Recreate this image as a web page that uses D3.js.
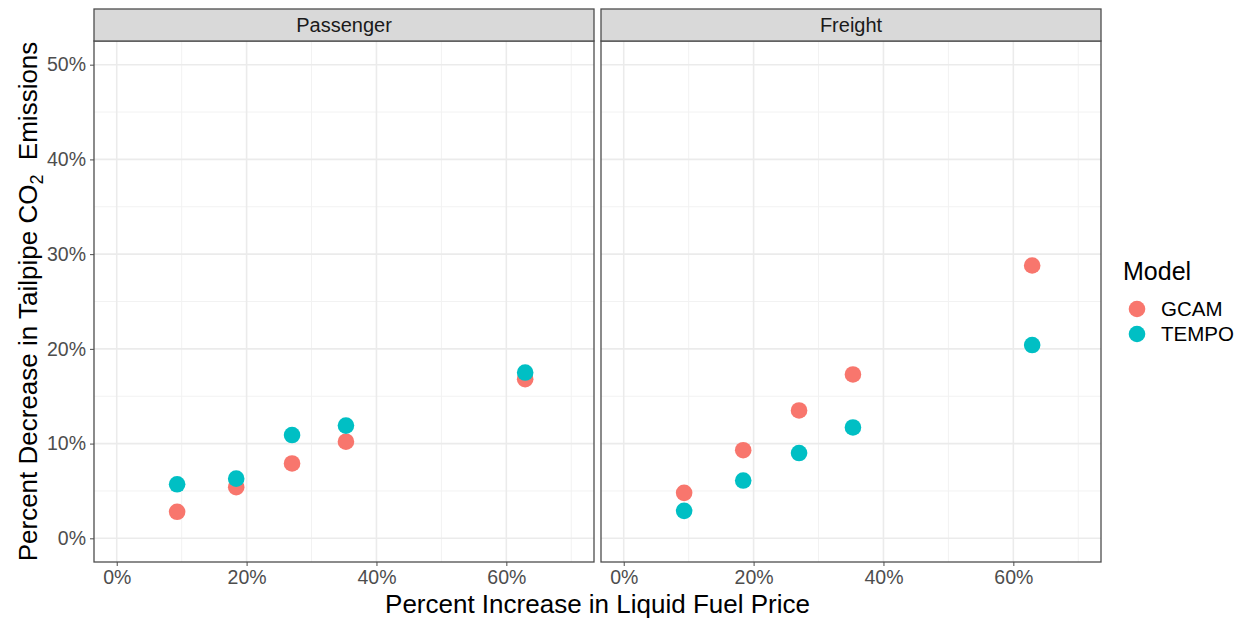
<!DOCTYPE html>
<html><head><meta charset="utf-8">
<script src="https://cdn.jsdelivr.net/npm/d3@7"></script>
<style>body{margin:0;background:#fff;} text{font-family:"Liberation Sans",Arial,sans-serif;}</style>
</head><body><svg id="c" width="1247" height="620"></svg>
<script>
const panels = ["Passenger", "Freight"];
const models = ["GCAM", "TEMPO"];
const colors = ["#F8766D", "#00BFC4"];
const priceIncrease = [9.3, 18.4, 27.0, 35.3, 62.9];
const passengerGCAM = [2.8, 5.4, 7.9, 10.2, 16.8];
const passengerTEMPO = [5.7, 6.3, 10.9, 11.9, 17.5];
const freightGCAM = [4.8, 9.3, 13.5, 17.3, 28.8];
const freightTEMPO = [2.9, 6.1, 9.0, 11.7, 20.4];
const xTicks = [0, 20, 40, 60];
const yTicks = [0, 10, 20, 30, 40, 50];

const data = {
  Passenger: {GCAM: passengerGCAM, TEMPO: passengerTEMPO},
  Freight: {GCAM: freightGCAM, TEMPO: freightTEMPO}
};

const svg = d3.select("#c");
const panelLeft = [94, 601], panelW = 500;
const pTop = 41, pBottom = 562, stripTop = 9;
const tickFont = 19.5, titleFont = 26;
const y = d3.scaleLinear().domain([-2.5, 52.5]).range([pBottom, pTop]);
const color = d3.scaleOrdinal().domain(models).range(colors);

panels.forEach((p, i) => {
  const x = d3.scaleLinear().domain([-3.5, 73.5]).range([panelLeft[i], panelLeft[i] + panelW]);
  const g = svg.append("g");
  [10, 30, 50, 70].forEach(v => g.append("line").attr("x1", x(v)).attr("x2", x(v)).attr("y1", pTop).attr("y2", pBottom).attr("stroke", "#F2F2F2").attr("stroke-width", 1));
  [5, 15, 25, 35, 45].forEach(v => g.append("line").attr("y1", y(v)).attr("y2", y(v)).attr("x1", x.range()[0]).attr("x2", x.range()[1]).attr("stroke", "#F2F2F2").attr("stroke-width", 1));
  xTicks.forEach(v => g.append("line").attr("x1", x(v)).attr("x2", x(v)).attr("y1", pTop).attr("y2", pBottom).attr("stroke", "#EBEBEB").attr("stroke-width", 1.6));
  yTicks.forEach(v => g.append("line").attr("y1", y(v)).attr("y2", y(v)).attr("x1", x.range()[0]).attr("x2", x.range()[1]).attr("stroke", "#EBEBEB").attr("stroke-width", 1.6));
  models.forEach(m => {
    g.selectAll(null).data(priceIncrease.map((xv, k) => ({x: xv, y: data[p][m][k]}))).enter()
      .append("circle").attr("cx", d => x(d.x)).attr("cy", d => y(d.y)).attr("r", 8.3).attr("fill", color(m));
  });
  g.append("rect").attr("x", panelLeft[i]).attr("y", pTop).attr("width", panelW).attr("height", pBottom - pTop)
    .attr("fill", "none").attr("stroke", "#4D4D4D").attr("stroke-width", 1.3);
  g.append("rect").attr("x", panelLeft[i]).attr("y", stripTop).attr("width", panelW).attr("height", pTop - stripTop)
    .attr("fill", "#D9D9D9").attr("stroke", "#4D4D4D").attr("stroke-width", 1.3);
  g.append("text").attr("x", panelLeft[i] + panelW / 2).attr("y", stripTop + 23).attr("text-anchor", "middle")
    .attr("font-size", 20).attr("fill", "#1A1A1A").text(p);
  const xa = svg.append("g").attr("transform", `translate(0,${pBottom})`)
    .call(d3.axisBottom(x).tickValues(xTicks).tickFormat(d => d + "%").tickSize(4).tickPadding(4));
  xa.select(".domain").remove();
  xa.selectAll("line").attr("stroke", "#4D4D4D");
  xa.selectAll("text").attr("font-size", tickFont).attr("fill", "#4D4D4D").attr("font-family", "Liberation Sans, Arial, sans-serif");
});

const ya = svg.append("g").attr("transform", `translate(${panelLeft[0]},0)`)
  .call(d3.axisLeft(y).tickValues(yTicks).tickFormat(d => d + "%").tickSize(4).tickPadding(4));
ya.select(".domain").remove();
ya.selectAll("line").attr("stroke", "#4D4D4D");
ya.selectAll("text").attr("font-size", tickFont).attr("fill", "#4D4D4D").attr("font-family", "Liberation Sans, Arial, sans-serif");

svg.append("text").attr("x", (panelLeft[0] + panelLeft[1] + panelW) / 2).attr("y", 613).attr("text-anchor", "middle")
  .attr("font-size", titleFont).attr("fill", "#000").text("Percent Increase in Liquid Fuel Price");
const yt = svg.append("text").attr("transform", `translate(37,${(pTop + pBottom) / 2}) rotate(-90)`).attr("text-anchor", "middle")
  .attr("font-size", titleFont).attr("fill", "#000");
yt.append("tspan").text("Percent Decrease in Tailpipe CO");
yt.append("tspan").attr("font-size", 18).attr("dy", 6).text("2");
yt.append("tspan").attr("dy", -6).text("\u00a0 Emissions");

const lg = svg.append("g");
lg.append("text").attr("x", 1123).attr("y", 280).attr("font-size", 25).attr("fill", "#000").text("Model");
models.forEach((m, k) => {
  const cy = 309 + k * 25;
  lg.append("circle").attr("cx", 1137).attr("cy", cy).attr("r", 8.3).attr("fill", color(m));
  lg.append("text").attr("x", 1161).attr("y", cy + 7).attr("font-size", 20.5).attr("fill", "#000").text(m);
});
</script></body></html>
